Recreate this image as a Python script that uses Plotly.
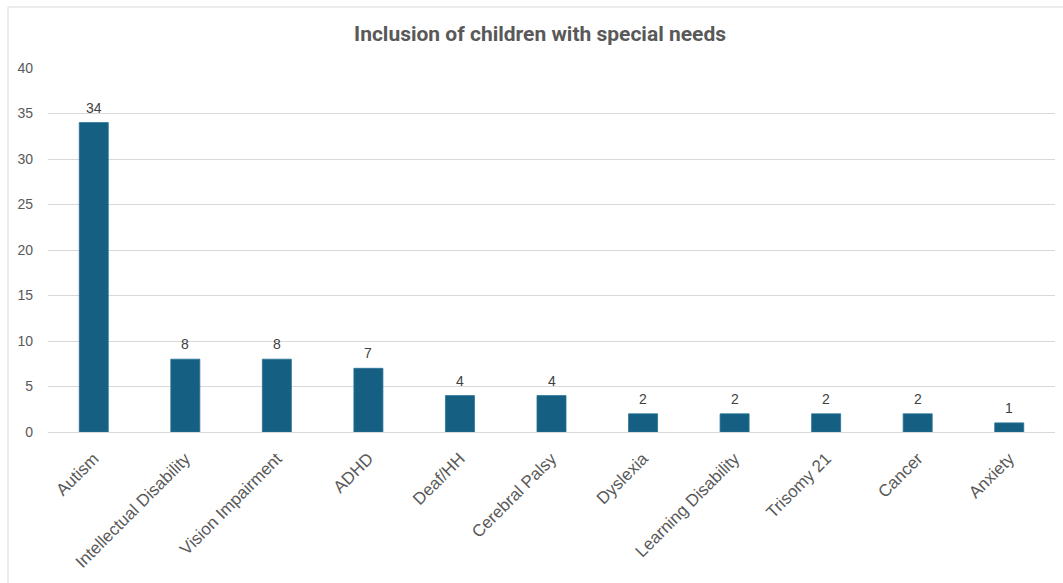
import plotly.graph_objects as go

categories = ["Autism", "Intellectual Disability", "Vision Impairment", "ADHD", "Deaf/HH",
              "Cerebral Palsy", "Dyslexia", "Learning Disability", "Trisomy 21", "Cancer", "Anxiety"]
counts = [34, 8, 8, 7, 4, 4, 2, 2, 2, 2, 1]
y_ticks = [0, 5, 10, 15, 20, 25, 30, 35, 40]

W, H = 1063, 583
L, R, T, B = 48, 8, 68, 151
pw, ph = W - L - R, H - T - B

def px_x(p):
    return (p - L) / pw

def px_y(p):
    return (H - B - p) / ph

fig = go.Figure(go.Bar(
    x=categories,
    y=counts,
    marker=dict(color="#156082", line=dict(color="#2a7196", width=0.8)),
    cliponaxis=False,
))

# value labels above each bar
for cat, v in zip(categories, counts):
    fig.add_annotation(x=cat, y=v, text=str(v), showarrow=False,
                       yanchor="bottom", yshift=5,
                       font=dict(family="Liberation Sans, Arial, sans-serif", size=14, color="#404040"))

fig.update_layout(
    width=W, height=H,
    margin=dict(l=L, r=R, t=T, b=B),
    paper_bgcolor="white", plot_bgcolor="white",
    bargap=0.683,
    showlegend=False,
    title=dict(text="<b>Inclusion of children with special needs</b>",
               x=540 / W, xref="container", xanchor="center",
               y=1 - 34 / H, yanchor="middle",
               font=dict(family="Roboto, sans-serif", size=21, color="#595959")),
    font=dict(family="Liberation Sans, Arial, sans-serif", color="#595959"),
    shapes=[dict(type="rect", xref="paper", yref="paper",
                 x0=px_x(8), x1=px_x(1075), y0=px_y(600), y1=px_y(7),
                 line=dict(color="#d9d9d9", width=1), fillcolor="rgba(0,0,0,0)", layer="below")],
)

fig.update_xaxes(
    tickangle=-45,
    tickfont=dict(size=17, color="#595959"),
    showline=True, linecolor="#d9d9d9", linewidth=1,
    showgrid=False, ticks="",
    ticklabelstandoff=9,
)
fig.update_yaxes(
    range=[0, 40],
    tickvals=y_ticks,
    tickfont=dict(size=14, color="#595959"),
    showgrid=True, gridcolor="#d9d9d9", gridwidth=1,
    zeroline=False, showline=False, ticks="",
    ticklabelstandoff=14,
)

fig.write_html("out.html")
